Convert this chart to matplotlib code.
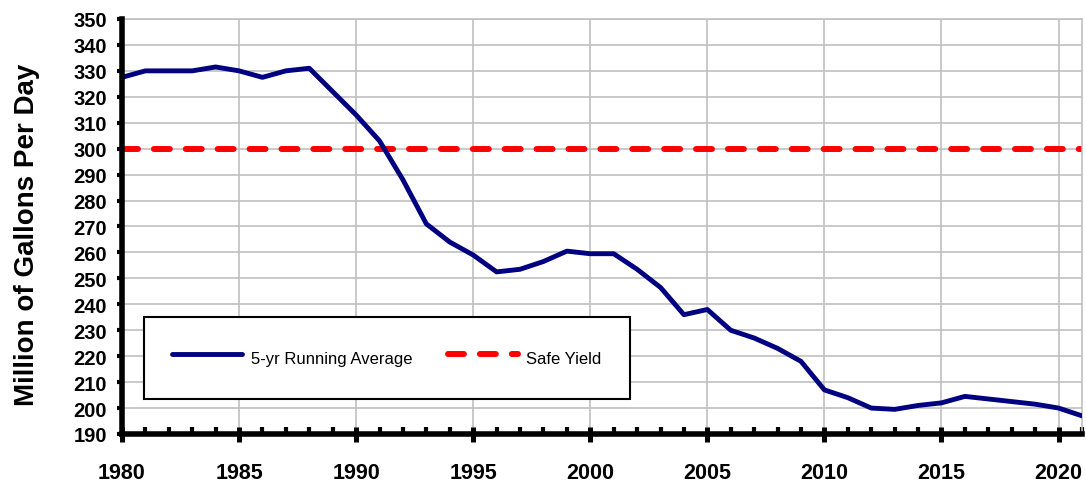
import matplotlib.pyplot as plt
from matplotlib.ticker import MultipleLocator


# ---------------------------------------------------
# DATOS
# ---------------------------------------------------
YEARS = list(range(1980, 2022))
RUNNING_AVG = [327.5, 330, 330, 330, 331.5, 330, 327.5, 330, 331, 322,
               313, 303, 288, 271, 264, 259, 252.5, 253.5, 256.5, 260.5,
               259.5, 259.5, 253.5, 246.5, 236, 238, 230, 227, 223, 218,
               207, 204, 200, 199.5, 201, 202, 204.5, 203.5, 202.5, 201.5,
               200, 197]
SAFE_YIELD = 300
# ---------------------------------------------------


def main():
    plt.rcParams['font.family'] = ['Liberation Sans', 'DejaVu Sans']
    fig = plt.figure(figsize=(10.86, 4.85), dpi=100)
    ax = fig.add_axes([0.1123, 0.1031, 0.884, 0.8557])

    ax.plot(YEARS, RUNNING_AVG, color='#000080', lw=3.5,
            label='5-yr Running Average', zorder=3,
            solid_capstyle='round', solid_joinstyle='round')
    ax.axhline(SAFE_YIELD, color='#ff0000', lw=4.3, ls=(0, (2.67, 2.67)),
               dash_capstyle='round', label='Safe Yield', zorder=2)

    ax.set_xlim(1980, 2021)
    ax.set_ylim(190, 350)
    ax.xaxis.set_major_locator(MultipleLocator(5))
    ax.xaxis.set_minor_locator(MultipleLocator(1))
    ax.yaxis.set_major_locator(MultipleLocator(10))

    ax.grid(True, which='major', color='#c0c0c0', lw=1.2)
    ax.set_axisbelow(True)

    for side in ['left', 'bottom']:
        ax.spines[side].set_linewidth(4)
        ax.spines[side].set_color('black')
        ax.spines[side].set_zorder(4)
    for side in ['top', 'right']:
        ax.spines[side].set_linewidth(1.2)
        ax.spines[side].set_color('#c0c0c0')

    ax.tick_params(axis='x', which='major', direction='inout', length=10.8,
                   width=3.6, pad=15, labelsize=15.5)
    ax.tick_params(axis='x', which='minor', direction='in', length=5,
                   width=3)
    ax.tick_params(axis='y', which='major', direction='out', length=3.6,
                   width=3, pad=7, labelsize=14.5)
    for lab in ax.get_xticklabels() + ax.get_yticklabels():
        lab.set_fontweight('bold')

    ax.set_ylabel('Million of Gallons Per Day', fontsize=20, fontweight='bold',
                  labelpad=24)
    ax.yaxis.label.set_y(0.482)

    leg = ax.legend(loc='lower left', bbox_to_anchor=(0.0229, 0.0843, 0.506, 0.2),
                    mode='expand', ncol=2, fontsize=12, frameon=True,
                    fancybox=False, edgecolor='black', framealpha=1,
                    handlelength=4.2, handleheight=2.0, handletextpad=0.5,
                    borderaxespad=0, borderpad=1.7)
    leg.get_frame().set_linewidth(1.5)
    leg.set_zorder(5)

    fig.savefig('out.png', dpi=100)


if __name__ == '__main__':
    main()
